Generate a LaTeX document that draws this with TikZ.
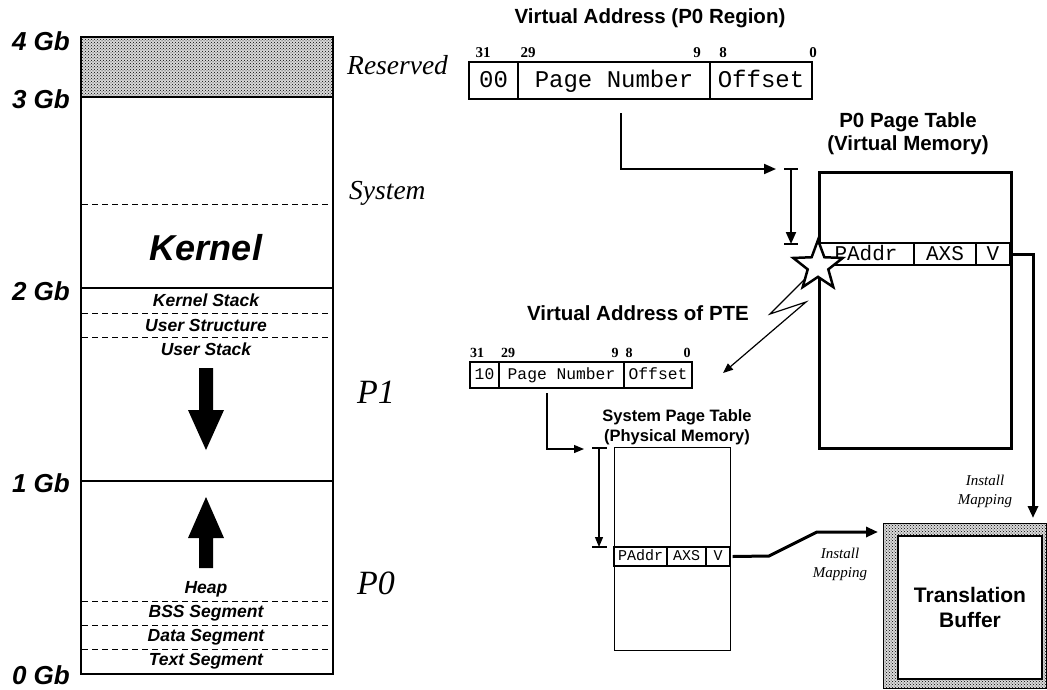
\documentclass[tikz,border=0pt]{standalone}
\usepackage{fontspec}
\setmainfont{Liberation Sans}
\newfontfamily\tms{Liberation Serif}
\setmonofont{Liberation Mono}
\usetikzlibrary{shapes.geometric,patterns,arrows.meta}
\tikzset{
  gb/.style={font=\fontsize{26}{26}\selectfont\bfseries\itshape, anchor=east, inner sep=0},
  seg/.style={font=\fontsize{17.5}{17.5}\selectfont\bfseries\itshape, inner sep=0},
  rlab/.style={font=\tms\itshape\fontsize{27.5}{27.5}\selectfont, anchor=west, inner sep=0},
  plab/.style={font=\tms\itshape\fontsize{34}{34}\selectfont, anchor=west, inner sep=0},
  ttl/.style={font=\bfseries, align=center, inner sep=0},
  bitn/.style={font=\tms\bfseries\fontsize{15}{15}\selectfont, inner sep=0},
  bitm/.style={font=\tms\bfseries\fontsize{14}{14}\selectfont, inner sep=0},
  inst/.style={font=\tms\itshape\fontsize{15}{19}\selectfont, align=center, inner sep=0},
  fld/.style={draw, inner sep=0},
  fldA/.style={fld, line width=2pt, minimum height=37pt, text height=15pt, text depth=1pt, font=\ttfamily\fontsize{24}{24}\selectfont},
  fldB/.style={fld, line width=1.3pt, minimum height=26pt, text height=10pt, text depth=1pt, font=\ttfamily\fontsize{16.3}{16.3}\selectfont},
  rowA/.style={fld, line width=2.5pt, minimum height=22pt, text height=13pt, text depth=1pt, font=\ttfamily\fontsize{21}{21}\selectfont},
  rowB/.style={fld, line width=1.3pt, minimum height=19pt, text height=9.5pt, text depth=1pt, font=\ttfamily\fontsize{15}{15}\selectfont},
  memline/.style={line width=2pt},
  dline/.style={dashed, line width=1pt, dash pattern=on 6pt off 4pt},
  tip/.style={-{Triangle[length=12pt,width=10pt]}},
  tips/.style={-{Triangle[length=10pt,width=8pt]}},
  stipple/.style={pattern=crosshatch dots, pattern color=black}
}
\begin{document}
\begin{tikzpicture}[x=1pt,y=-1pt]
\useasboundingbox (0,0) rectangle (1047,689);
\fill[white] (0,0) rectangle (1047,689);

% ---- memory column
\fill[gray!30] (80,36) rectangle (332,97);
\fill[stipple] (80,36) rectangle (332,97);
\node[draw, memline, minimum width=252pt, minimum height=637pt, anchor=north west, inner sep=0] (mem) at (80,36) {};
\draw[memline] (80,97) -- (332,97);
\draw[memline] (80,288) -- (332,288);
\draw[memline] (80,481) -- (332,481);
\draw[dline] (82,204) -- (330,204);
\draw[dline] (82,313) -- (330,313);
\draw[dline] (82,337) -- (330,337);
\draw[dline] (82,601) -- (330,601);
\draw[dline] (82,625) -- (330,625);
\draw[dline] (82,649) -- (330,649);

\node[gb] (g4) at (70,41) {4 Gb};
\node[gb] (g3) at (70,99) {3 Gb};
\node[gb] (g2) at (70,291) {2 Gb};
\node[gb] (g1) at (70,483) {1 Gb};
\node[gb] (g0) at (70,675) {0 Gb};

\node[font=\fontsize{36}{36}\selectfont\bfseries\itshape, inner sep=0] (kern) at (206,248) {Kernel};
\node[seg] (ks) at (206,300) {Kernel Stack};
\node[seg] (us) at (206,325) {User Structure};
\node[seg] (ust) at (206,349) {User Stack};
\node[seg] (hp) at (206,589) {Heap};
\node[seg] (bss) at (206,613) {BSS Segment};
\node[seg] (ds) at (206,637) {Data Segment};
\node[seg] (ts) at (206,661) {Text Segment};

\fill (199,368) -- (213,368) -- (213,410) -- (224,410) -- (206,450) -- (188,410) -- (199,410) -- cycle;
\fill (199,568) -- (213,568) -- (213,538) -- (224,538) -- (206,497) -- (188,538) -- (199,538) -- cycle;

\node[rlab] (res) at (347,65) {Reserved};
\node[rlab] (sys) at (349,193) {System};
\node[plab] (p1) at (357,392) {P1};
\node[plab] (p0) at (357,583) {P0};

% ---- top virtual address
\node[ttl, font=\bfseries\fontsize{20.5}{20.5}\selectfont] (vat) at (650,18) {Virtual Address (P0 Region)};
\node[fldA, minimum width=49pt] (a1) at (493.5,80.5) {00};
\node[fldA, minimum width=192pt] (a2) at (614,80.5) {Page Number};
\node[fldA, minimum width=102pt] (a3) at (761,80.5) {Offset};
\node[bitn] at (483,53) {31};
\node[bitn] at (528,53) {29};
\node[bitn] at (697,53) {9};
\node[bitn] at (723,53) {8};
\node[bitn] at (813,53) {0};

% ---- P0 page table
\node[ttl, font=\bfseries\fontsize{20.5}{23}\selectfont] (p0t) at (908,134) {P0 Page Table\\(Virtual Memory)};
\node[draw, line width=3pt, minimum width=192pt, minimum height=276pt, anchor=north west, inner sep=0] (p0tab) at (818,171) {};
\node[rowA, minimum width=96pt] (pa1) at (866,254) {PAddr};
\node[rowA, minimum width=62pt] (pa2) at (945,254) {AXS};
\node[rowA, minimum width=34pt] (pa3) at (993,254) {V};

\coordinate (c1) at (621,113);
\coordinate (c2) at (776,169);
\draw[line width=2pt, tip] (c1) |- (c2);
\draw[line width=2pt] (784,169) -- (798,169);
\draw[line width=2pt] (784,244) -- (798,244);
\draw[line width=2pt, tip] (791,169) -- (791,244);

\node[star, star points=5, star point ratio=2.4, draw, line width=2.5pt, fill=white, minimum size=52pt, inner sep=0] (st) at (818,266) {};

% ---- virtual address of PTE
\node[ttl, font=\bfseries\fontsize{20.5}{20.5}\selectfont] (vpt) at (638,313) {Virtual Address of PTE};
\node[fldB, minimum width=29pt] (b1) at (484.5,375) {10};
\node[fldB, minimum width=125pt] (b2) at (561.5,375) {Page Number};
\node[fldB, minimum width=68pt] (b3) at (658,375) {Offset};
\node[bitm] at (477,353) {31};
\node[bitm] at (508,353) {29};
\node[bitm] at (615,353) {9};
\node[bitm] at (629,353) {8};
\node[bitm] at (687,353) {0};

\coordinate (l1) at (805,279);
\coordinate (l2) at (770,314);
\coordinate (l3) at (806,302);
\coordinate (l4) at (723,373);
\draw[line width=1.2pt, tips] (l1) -- (l2) -- (l3) -- (l4);

% ---- system page table
\node[ttl, font=\bfseries\fontsize{16.5}{20}\selectfont] (spt) at (677,427) {System Page Table\\(Physical Memory)};
\node[draw, line width=1.3pt, minimum width=116pt, minimum height=203pt, anchor=north west, inner sep=0] (stab) at (614,447) {};
\node[rowB, minimum width=53pt] (sa1) at (640.5,556.5) {PAddr};
\node[rowB, minimum width=39pt] (sa2) at (686.5,556.5) {AXS};
\node[rowB, minimum width=24pt] (sa3) at (718,556.5) {V};

\coordinate (d1) at (547,393);
\coordinate (d2) at (584,449);
\draw[line width=1.2pt, tips] (d1) |- (d2);
\draw[line width=1.2pt] (592,448) -- (607,448);
\draw[line width=1.2pt] (592,547) -- (607,547);
\draw[line width=1.2pt, tips] (599,448) -- (599,547);

% ---- translation buffer
\fill[gray!30] (883,523) rectangle (1046,688);
\fill[stipple] (883,523) rectangle (1046,688);
\draw[line width=1pt] (883,523) rectangle (1046,688);
\node[draw, line width=2pt, fill=white, minimum width=144pt, minimum height=143pt, anchor=north west, inner sep=0, font=\bfseries\fontsize{21}{25}\selectfont, align=center] (tb) at (897,535) {Translation\\Buffer};

\coordinate (m1) at (769,556);
\coordinate (m2) at (817,532);
\coordinate (m3) at (878,532);
\draw[line width=3pt, tip] (sa3.east) ++(2,0) -- (m1) -- (m2) -- (m3);
\node[inst] (im1) at (840,564) {Install\\Mapping};

\coordinate (n1) at (1033,254);
\coordinate (n2) at (1033,518);
\draw[line width=3pt, tip] (pa3.east) -- (n1) -- (n2);
\node[inst] (im2) at (985,491) {Install\\Mapping};
\end{tikzpicture}
\end{document}
